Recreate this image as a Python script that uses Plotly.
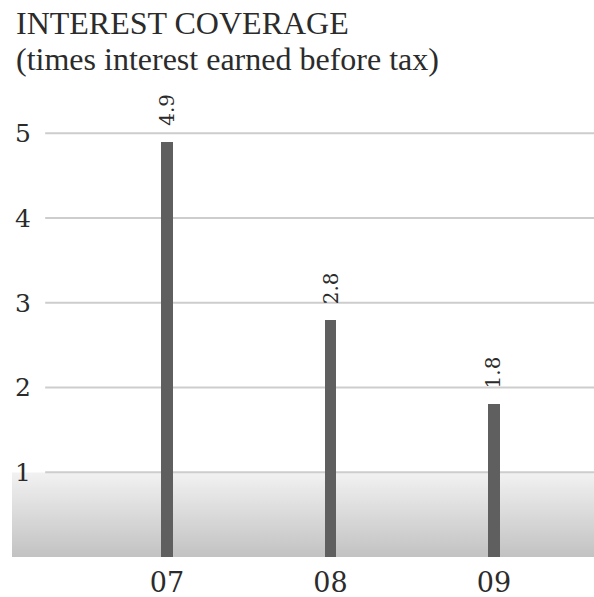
import base64
import plotly.graph_objects as go

# Interest coverage by fiscal year
years = ["07", "08", "09"]
coverage = [4.9, 2.8, 1.8]
y_ticks = [1, 2, 3, 4, 5]

SERIF = "Liberation Serif, Times New Roman, serif"
NUM_SERIF = "DejaVu Serif, serif"
BAR_COLOR = "#5f5f5f"
GRID_COLOR = "#cdcdcd"
TEXT_COLOR = "#2b2b2b"

x_pos = list(range(len(years)))

# soft vertical gradient used for the band under y = 1
svg = (
    '<svg xmlns="http://www.w3.org/2000/svg" width="10" height="100" preserveAspectRatio="none">'
    '<defs><linearGradient id="g" x1="0" y1="0" x2="0" y2="1">'
    '<stop offset="0" stop-color="#f2f2f2"/><stop offset="1" stop-color="#c2c2c2"/>'
    '</linearGradient></defs><rect width="10" height="100" fill="url(#g)"/></svg>'
)
band_src = "data:image/svg+xml;base64," + base64.b64encode(svg.encode()).decode()

fig = go.Figure()
fig.add_trace(
    go.Bar(
        x=x_pos,
        y=coverage,
        width=0.07,
        marker=dict(color=BAR_COLOR, line=dict(width=0)),
        hoverinfo="skip",
    )
)

# value labels, rotated, sitting above each bar
for xp, v in zip(x_pos, coverage):
    fig.add_annotation(
        x=xp, y=v, xref="x", yref="y",
        text=f"{v:.1f}", textangle=-90, showarrow=False,
        yanchor="bottom", yshift=14,
        font=dict(family=NUM_SERIF, size=20, color=TEXT_COLOR),
    )

# two-line heading above the plot
fig.add_annotation(
    text="INTEREST COVERAGE", xref="paper", yref="paper",
    x=0.0, y=1.145, xanchor="left", yanchor="middle", showarrow=False,
    xshift=2,
    font=dict(family=SERIF, size=32, color=TEXT_COLOR),
)
fig.add_annotation(
    text="(times interest earned before tax)", xref="paper", yref="paper",
    x=0.0, y=1.068, xanchor="left", yanchor="middle", showarrow=False,
    xshift=2,
    font=dict(family=SERIF, size=32, color=TEXT_COLOR),
)

# horizontal rules at each y tick, starting a little right of the labels
for t in y_ticks:
    fig.add_shape(
        type="line", xref="paper", yref="y",
        x0=0.057, x1=1, y0=t, y1=t,
        line=dict(color=GRID_COLOR, width=2), layer="below",
    )

fig.add_layout_image(
    source=band_src, xref="paper", yref="y",
    x=0, y=y_ticks[0], sizex=1, sizey=y_ticks[0],
    xanchor="left", yanchor="top", sizing="stretch", layer="below",
)

fig.update_layout(
    width=594, height=597,
    margin=dict(l=12, r=0, t=91, b=40),
    paper_bgcolor="white", plot_bgcolor="white",
    showlegend=False,
    bargap=0,
    xaxis=dict(
        range=[-0.948, 2.612],
        tickvals=x_pos, ticktext=years,
        ticklabelstandoff=7, automargin=False,
        showgrid=False, zeroline=False, showline=False, ticks="",
        tickfont=dict(family=NUM_SERIF, size=27, color=TEXT_COLOR),
    ),
    yaxis=dict(
        range=[0, 5.5],
        tickvals=y_ticks, ticktext=[str(t) for t in y_ticks],
        ticklabelposition="inside", automargin=False,
        showgrid=False, zeroline=False, showline=False, ticks="",
        tickfont=dict(family=NUM_SERIF, size=25, color=TEXT_COLOR),
    ),
)

fig.write_html("out.html")
